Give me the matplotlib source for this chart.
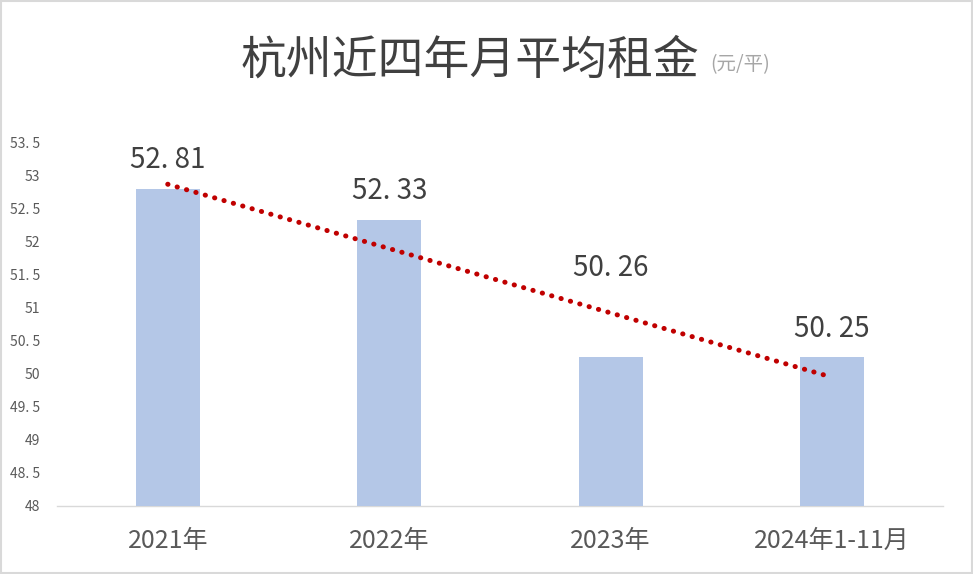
import numpy as np
import matplotlib.pyplot as plt

plt.rcParams['font.family'] = ['Noto Sans CJK SC', 'DejaVu Sans']

# data
categories = ['2021年', '2022年', '2023年', '2024年1-11月']
rent = [52.81, 52.33, 50.26, 50.25]
yticks = [48, 48.5, 49, 49.5, 50, 50.5, 51, 51.5, 52, 52.5, 53, 53.5]

# label offsets above bar top (points), the 2023 one sits higher
label_offsets = [10, 10, 53, 10]

fig = plt.figure(figsize=(9.73, 5.74), dpi=100)
ax = fig.add_axes([0.0586, 0.1185, 0.9104, 0.6324])

x = np.arange(len(categories))
ax.bar(x, rent, width=0.29, color='#B4C7E7', zorder=2)

# linear trend line
k, b = np.polyfit(x, rent, 1)
ax.plot(x, k * x + b, color='#C00000', linewidth=3.6,
        linestyle=(0, (0.05, 1.9)), dash_capstyle='round', zorder=3)

for i, v in enumerate(rent):
    s = '%.2f' % v
    ax.annotate(s.replace('.', '. '), (x[i], v), xytext=(0, label_offsets[i]),
                textcoords='offset points', ha='center', va='bottom',
                fontsize=20, color='#404040')

ax.set_xlim(-0.5, len(categories) - 0.5)
ax.set_ylim(48, 53.5)
ax.set_yticks(yticks)
ax.set_yticklabels([('%g' % t).replace('.', '. ') for t in yticks],
                   fontsize=10, color='#595959')
ax.set_xticks(x)
ax.set_xticklabels(categories, fontsize=18, color='#595959')
ax.tick_params(axis='both', length=0)
ax.tick_params(axis='x', pad=16)
ax.tick_params(axis='y', pad=12)

for side in ['top', 'right', 'left']:
    ax.spines[side].set_visible(False)
ax.spines['bottom'].set_color('#D9D9D9')
ax.spines['bottom'].set_linewidth(1)
ax.spines['bottom'].set_zorder(1)

# title
fig.text(0.483, 0.895, '杭州近四年月平均租金', ha='center', va='center',
         fontsize=33, color='#404040')
fig.text(0.730, 0.888, '(元/平)', ha='left', va='center',
         fontsize=14, color='#A6A6A6')

# outer frame
fig.patches.append(plt.Rectangle((0.001, 0.001), 0.998, 0.998, transform=fig.transFigure,
                                 fill=False, edgecolor='#D9D9D9', linewidth=1.5))

fig.savefig('out.png', dpi=100)
